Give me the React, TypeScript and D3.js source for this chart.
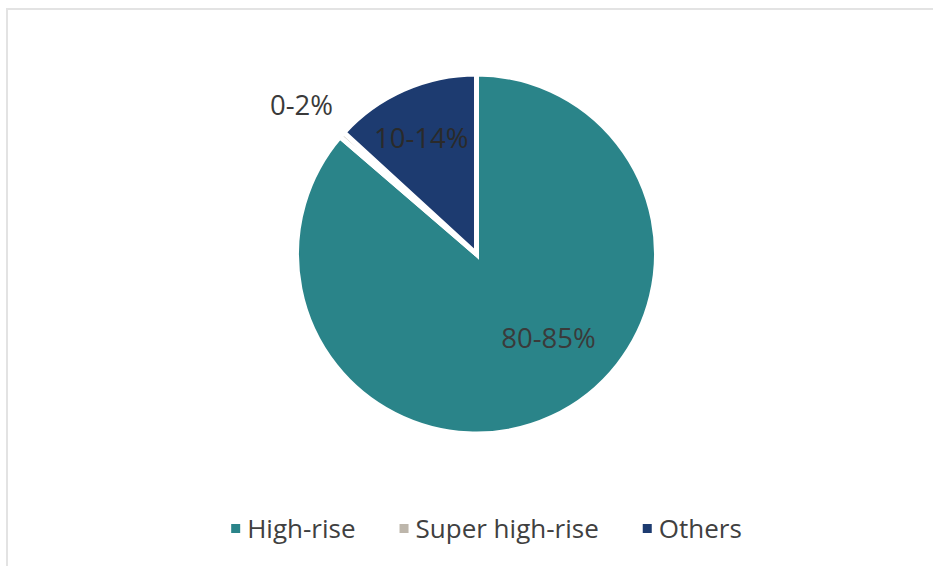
import * as d3 from "d3";
import React, { useEffect, useRef } from "react";

// categories and shares (%)
const categories = ["High-rise", "Super high-rise", "Others"];
const shares = [86.3, 0.5, 13.2];
const labels = ["80-85%", "0-2%", "10-14%"];
const colors = ["#2a8489", "#bdb6ab", "#1d3b70"];

const W = 933;
const H = 566;

const App: React.FC = () => {
  const svgRef = useRef<SVGSVGElement | null>(null);

  useEffect(() => {
    if (!svgRef.current) return;
    const svg = d3.select(svgRef.current);
    svg.selectAll("*").remove();

    const cx = 476.5;
    const cy = 254;
    const r = 180;

    // chart frame (right & bottom sides fall outside the shot)
    svg
      .append("rect")
      .attr("x", 7)
      .attr("y", 9)
      .attr("width", W + 20)
      .attr("height", H + 20)
      .attr("fill", "#fff")
      .attr("stroke", "#e3e3e3")
      .attr("stroke-width", 2);

    const data = categories.map((c, i) => ({ name: c, value: shares[i], label: labels[i], color: colors[i] }));
    type D = (typeof data)[number];

    const pie = d3
      .pie<D>()
      .sort(null)
      .value((d) => d.value)
      .startAngle(0)
      .endAngle(2 * Math.PI);
    const arcs = pie(data);

    const arc = d3.arc<d3.PieArcDatum<D>>().innerRadius(0).outerRadius(r);

    const g = svg.append("g").attr("transform", `translate(${cx},${cy})`);

    g.selectAll("path")
      .data(arcs)
      .enter()
      .append("path")
      .attr("d", arc)
      .attr("fill", (d) => d.data.color)
      .attr("stroke", "#fff")
      .attr("stroke-width", 5)
      .attr("stroke-linejoin", "miter");

    // data labels: radius factor + small nudge, like Excel's best fit
    const labelPos = [
      { k: 0.6, dx: 27, dy: -15 },
      { k: 1.3, dx: 0, dy: 6 },
      { k: 0.72, dx: -3, dy: 2 },
    ];
    g.selectAll("text.lbl")
      .data(arcs)
      .enter()
      .append("text")
      .attr("class", "lbl")
      .attr("transform", (d, i) => {
        const p = labelPos[i];
        const a = d3.arc<d3.PieArcDatum<D>>().innerRadius(r * p.k).outerRadius(r * p.k);
        const [x, y] = a.centroid(d);
        return `translate(${x + p.dx},${y + p.dy})`;
      })
      .attr("text-anchor", "middle")
      .attr("dominant-baseline", "central")
      .attr("font-family", "'Open Sans', sans-serif")
      .attr("font-size", 27.5)
      .attr("fill", (d, i) => (i === 2 ? "#2a2a2a" : "#3a3a3a"))
      .text((d) => d.data.label);

    // legend
    const legendY = 528;
    const items = svg.append("g").attr("font-family", "'Open Sans', sans-serif").attr("font-size", 26);
    const gap = 44;
    const nodes: { g: any; w: number }[] = [];
    data.forEach((d) => {
      const ig = items.append("g");
      ig.append("rect").attr("x", 0).attr("y", legendY - 4).attr("width", 9).attr("height", 9).attr("fill", d.color);
      const t = ig
        .append("text")
        .attr("x", 16)
        .attr("y", legendY)
        .attr("dominant-baseline", "central")
        .attr("fill", "#404040")
        .text(d.name);
      const w = 16 + (t.node() as SVGTextElement).getComputedTextLength();
      nodes.push({ g: ig, w });
    });
    const total = d3.sum(nodes, (n) => n.w) + gap * (nodes.length - 1);
    let x = 486.5 - total / 2;
    nodes.forEach((n) => {
      n.g.attr("transform", `translate(${x},0)`);
      x += n.w + gap;
    });
  }, []);

  return (
    <svg ref={svgRef} width={W} height={H} style={{ position: "absolute", left: 0, top: 0, background: "#fff" }} />
  );
};

export default App;
